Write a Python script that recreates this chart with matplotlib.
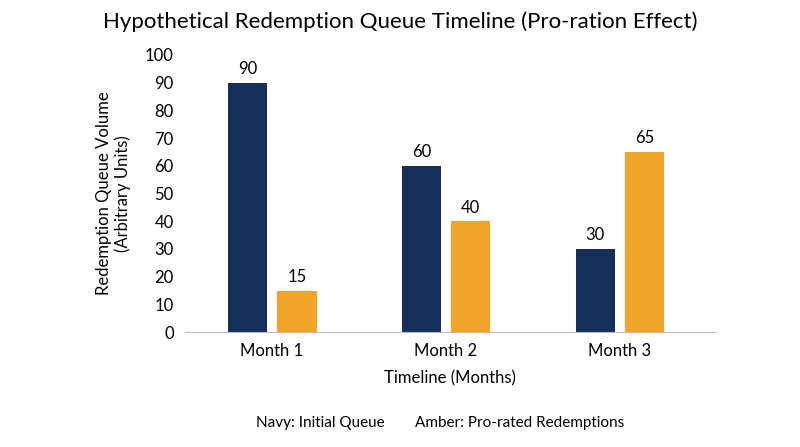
import matplotlib.pyplot as plt
import numpy as np

plt.rcParams['font.family'] = ['Lato', 'DejaVu Sans']

months = ["Month 1", "Month 2", "Month 3"]
initial_queue = [90, 60, 30]
prorated = [15, 40, 65]

navy = "#14305a"
amber = "#f0a52a"

fig = plt.figure(figsize=(8, 4.47), dpi=100)
ax = fig.add_axes([0.231, 0.257, 0.663, 0.62])

x = np.arange(len(months))
w = 0.225
b1 = ax.bar(x - 0.14, initial_queue, w, color=navy)
b2 = ax.bar(x + 0.145, prorated, w, color=amber)
for bars in (b1, b2):
    ax.bar_label(bars, padding=4, fontsize=12)

ax.set_xlim(-0.5, 2.55)
ax.set_ylim(0, 100)
ax.set_yticks(range(0, 101, 10))
ax.set_xticks(x, months)
ax.tick_params(axis='both', length=0, labelsize=12, pad=8)
for s in ("top", "right", "left"):
    ax.spines[s].set_visible(False)
ax.spines["bottom"].set_color("#bbbbbb")

ax.set_xlabel("Timeline (Months)", fontsize=12, labelpad=8)
ax.set_ylabel("Redemption Queue Volume\n(Arbitrary Units)", fontsize=12, labelpad=10)
fig.suptitle("Hypothetical Redemption Queue Timeline (Pro-ration Effect)",
             fontsize=16, y=0.975)

fig.text(0.32, 0.053, "Navy: Initial Queue", fontsize=11, ha="left", va="center")
fig.text(0.519, 0.053, "Amber: Pro-rated Redemptions", fontsize=11, ha="left", va="center")

fig.savefig("out.png", dpi=100)
